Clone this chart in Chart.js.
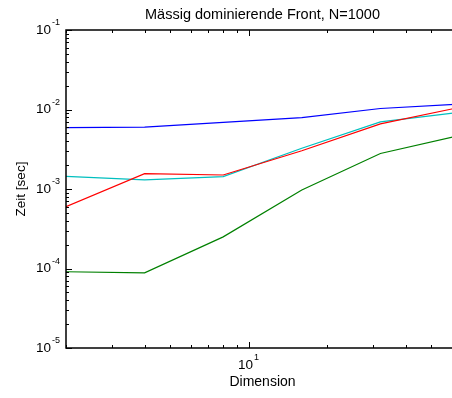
<!DOCTYPE html>
<html>
<head>
<meta charset="utf-8">
<script src="https://cdn.jsdelivr.net/npm/chart.js@4/dist/chart.umd.min.js"></script>
<style>
  html, body { margin: 0; padding: 0; background: #fff; overflow: hidden; }
  #wrap { width: 452px; height: 398px; overflow: hidden; }
</style>
</head>
<body>
<div id="wrap"><canvas id="myChart" width="462" height="398"></canvas></div>
<script>
// dimensions (x) and times in seconds (y)
var dims = [2, 4, 8, 16, 32, 64];
var blueTimes = [5.9e-3, 6.0e-3, 6.9e-3, 7.9e-3, 1.03e-2, 1.17e-2];
var redTimes = [6.0e-4, 1.56e-3, 1.5e-3, 3.03e-3, 6.6e-3, 1.06e-2];
var cyanTimes = [1.44e-3, 1.30e-3, 1.43e-3, 3.25e-3, 7.0e-3, 9.2e-3];
var greenTimes = [9.1e-5, 8.8e-5, 2.5e-4, 9.7e-4, 2.8e-3, 4.7e-3];

var yTickExps = [-5, -4, -3, -2, -1];
var xTickExps = [1];
var titleText = "Mässig dominierende Front, N=1000";
var xLabel = "Dimension";
var yLabel = "Zeit [sec]";

var FONT = "Liberation Sans, Arial, Helvetica, sans-serif";

function makeSet(data, color) {
  return {
    data: dims.map(function (d, i) { return { x: d, y: data[i] }; }),
    borderColor: color,
    borderWidth: 1.2,
    pointRadius: 0,
    fill: false,
    tension: 0
  };
}

// draws 10 with a raised exponent
function drawPow(ctx, x, y, exp, align) {
  ctx.font = "13.5px " + FONT;
  var w1 = ctx.measureText("10").width;
  ctx.font = "9px " + FONT;
  var e = exp < 0 ? "-" + (-exp) : String(exp);
  var w2 = ctx.measureText(e).width;
  var left = align === "right" ? x - w1 - w2 - 1 : x - (w1 + w2 + 1) / 2;
  ctx.textAlign = "left";
  ctx.textBaseline = "middle";
  ctx.font = "13.5px " + FONT;
  ctx.fillText("10", left, y);
  ctx.font = "9px " + FONT;
  ctx.fillText(e, left + w1 + 1, y - 7);
}

var axesPlugin = {
  id: "matlabAxes",
  afterDraw: function (chart) {
    var ctx = chart.ctx;
    var a = chart.chartArea;
    var xs = chart.scales.x, ys = chart.scales.y;
    ctx.save();
    ctx.fillStyle = "#000";
    ctx.strokeStyle = "#000";

    // box
    ctx.lineWidth = 1.5;
    ctx.strokeRect(a.left, a.top, a.right - a.left, a.bottom - a.top);

    // ticks
    ctx.lineWidth = 1;
    ctx.beginPath();
    var dec, m, v, p, len;
    for (dec = -5; dec <= -1; dec++) {
      for (m = 1; m <= 9; m++) {
        v = m * Math.pow(10, dec);
        if (v > 0.1 + 1e-12) continue;
        p = Math.round(ys.getPixelForValue(v)) + 0.5;
        len = m === 1 ? 6 : 3;
        ctx.moveTo(a.left, p); ctx.lineTo(a.left + len, p);
        ctx.moveTo(a.right, p); ctx.lineTo(a.right - len, p);
      }
    }
    for (dec = 0; dec <= 1; dec++) {
      for (m = 1; m <= 9; m++) {
        v = m * Math.pow(10, dec);
        if (v < 2 || v > 64) continue;
        p = Math.round(xs.getPixelForValue(v)) + 0.5;
        len = m === 1 ? 6 : 3;
        ctx.moveTo(p, a.bottom); ctx.lineTo(p, a.bottom - len);
        ctx.moveTo(p, a.top); ctx.lineTo(p, a.top + len);
      }
    }
    ctx.stroke();

    // tick labels
    yTickExps.forEach(function (e) {
      drawPow(ctx, a.left - 6, ys.getPixelForValue(Math.pow(10, e)), e, "right");
    });
    xTickExps.forEach(function (e) {
      drawPow(ctx, xs.getPixelForValue(Math.pow(10, e)), a.bottom + 17, e, "center");
    });

    // title and axis labels
    var cx = (a.left + a.right) / 2;
    ctx.textAlign = "center";
    ctx.textBaseline = "middle";
    ctx.font = "14.5px " + FONT;
    ctx.fillText(titleText, cx, 15);
    ctx.font = "14px " + FONT;
    ctx.fillText(xLabel, cx, 382);
    ctx.font = "13.5px " + FONT;
    ctx.translate(21, (a.top + a.bottom) / 2);
    ctx.rotate(-Math.PI / 2);
    ctx.fillText(yLabel, 0, 0);
    ctx.restore();
  }
};

new Chart(document.getElementById("myChart").getContext("2d"), {
  type: "line",
  data: {
    datasets: [
      makeSet(blueTimes, "#0000ff"),
      makeSet(greenTimes, "#008000"),
      makeSet(redTimes, "#ff0000"),
      makeSet(cyanTimes, "#00bfbf")
    ]
  },
  options: {
    responsive: false,
    animation: false,
    layout: { padding: { left: 66, top: 30, right: 3, bottom: 50 } },
    plugins: { legend: { display: false }, tooltip: { enabled: false }, title: { display: false } },
    scales: {
      x: { type: "logarithmic", min: 2, max: 64, display: false },
      y: { type: "logarithmic", min: 1e-5, max: 1e-1, display: false }
    }
  },
  plugins: [axesPlugin]
});
</script>
</body>
</html>
